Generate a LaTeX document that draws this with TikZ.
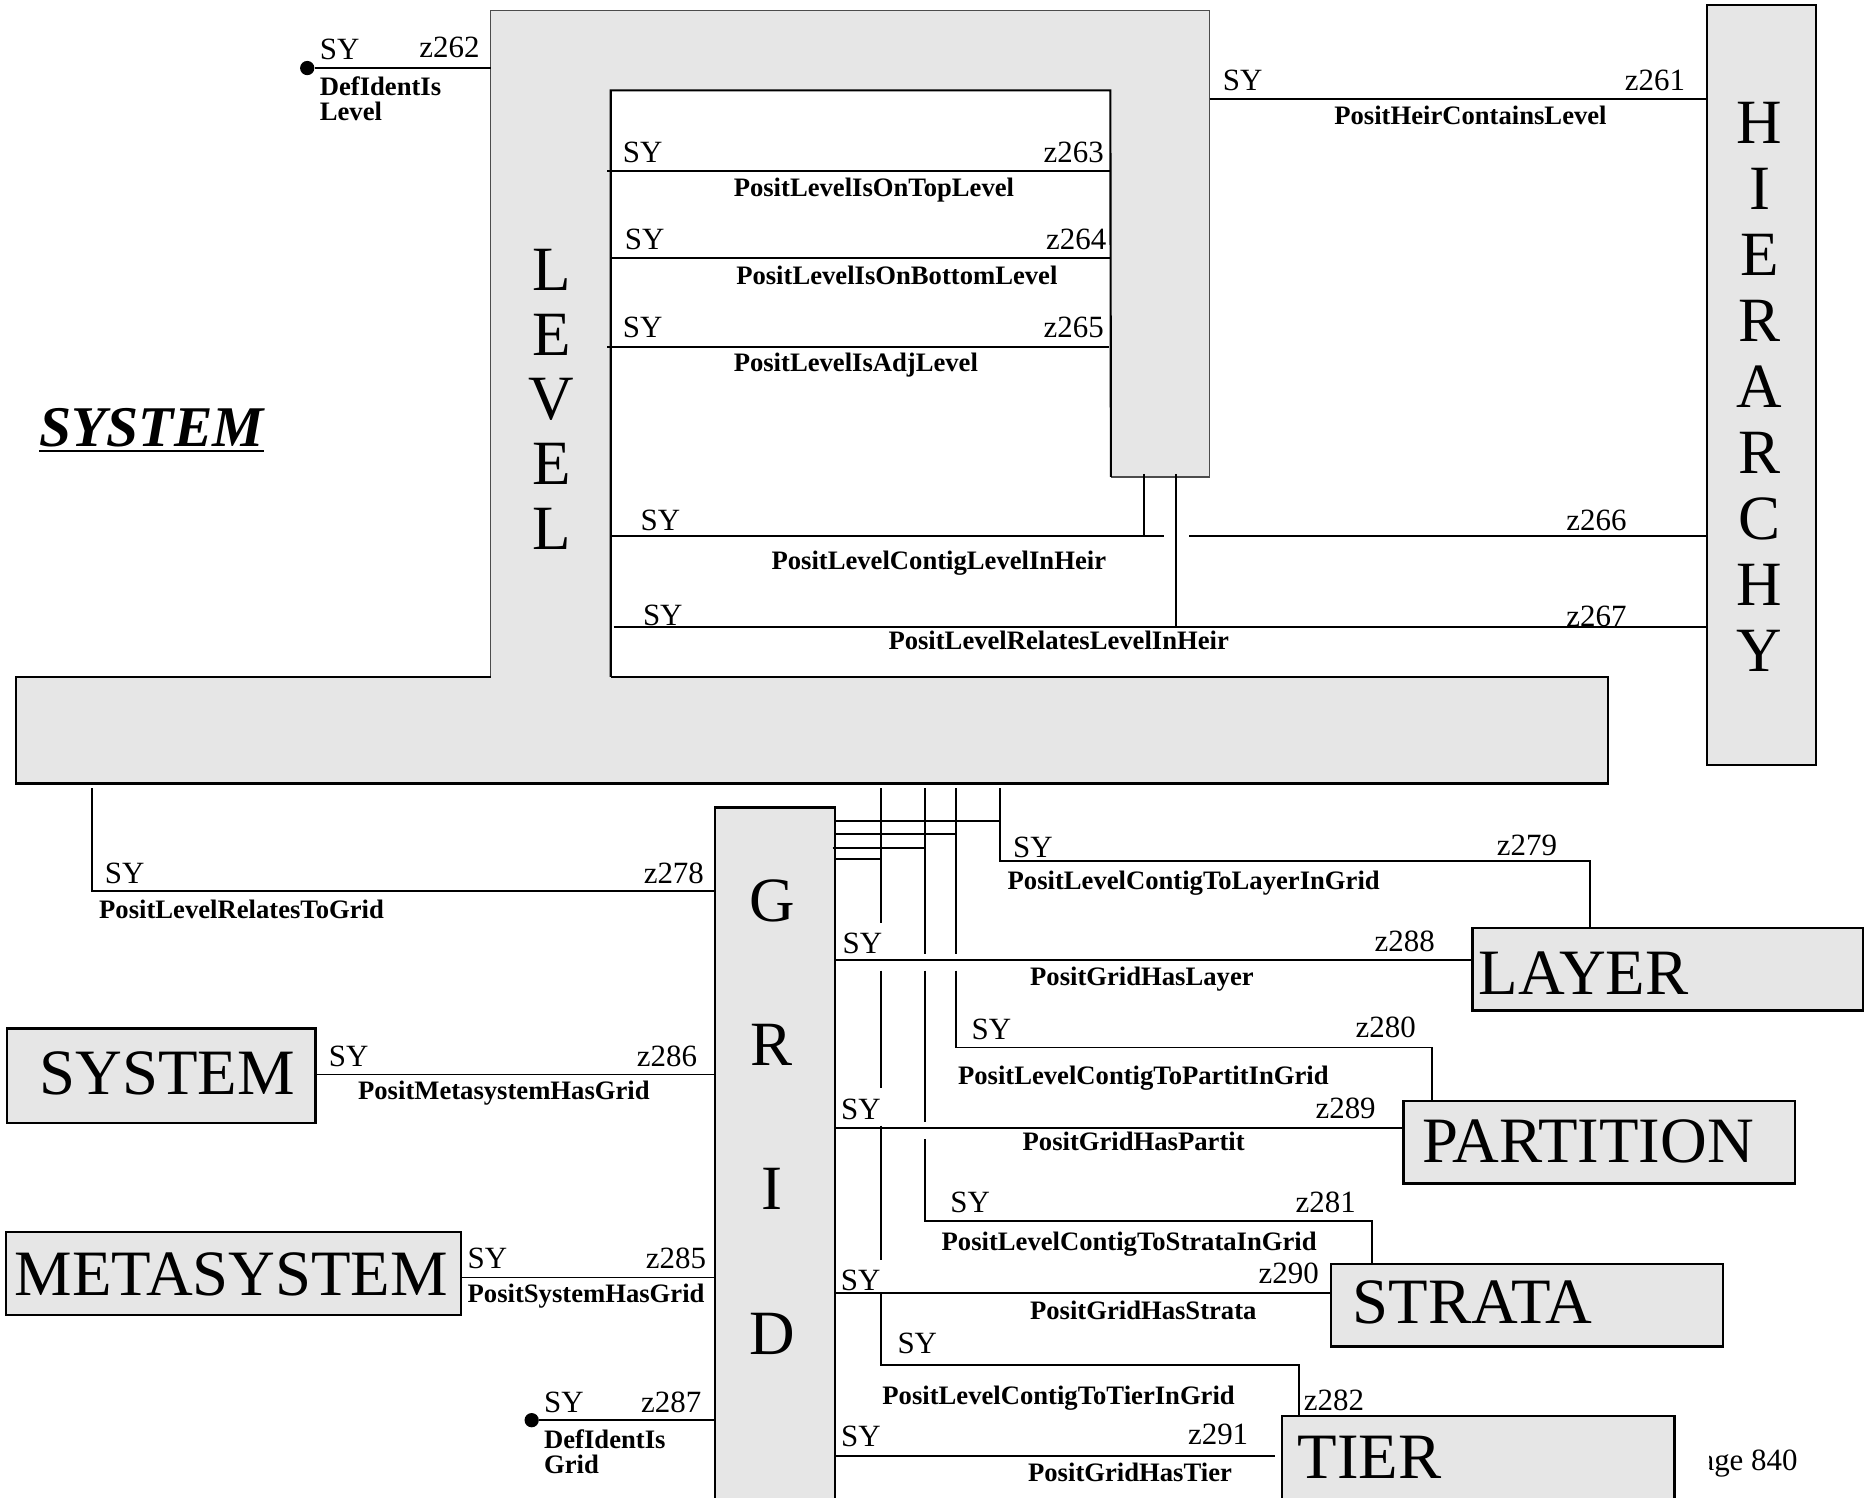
\documentclass[tikz,border=0pt]{standalone}
\usepackage{fontspec}
\setmainfont{Liberation Serif}
\newcommand{\pxunit}{0.5pt}
\definecolor{boxgray}{HTML}{E6E6E6}
\begin{document}
\begin{tikzpicture}[x=0.5pt,y=-0.5pt,
  ebox/.style={draw, line width=1pt, fill=boxgray, inner sep=0pt, outer sep=0pt, anchor=north west},
  conn/.style={line width=0.75pt},
  lab/.style={inner sep=0pt, anchor=base west, font=\fontsize{13}{15}\selectfont},
  labr/.style={inner sep=0pt, anchor=base east, font=\fontsize{13}{15}\selectfont},
  bl/.style={inner sep=0pt, anchor=base west, font=\fontsize{11.2}{13}\selectfont\bfseries},
  bigt/.style={inner sep=0pt, anchor=base west, font=\fontsize{27.2}{30}\selectfont},
  vlet/.style={inner sep=0pt, anchor=base, font=\fontsize{26.5}{30}\selectfont},
  dotn/.style={circle, fill, inner sep=0pt, minimum size=12*\pxunit}
]
\useasboundingbox (0,0) rectangle (1568,1259);
\clip (0,0) rectangle (1568,1259);

% LEVEL frame joined to the long bar
\coordinate (lvOL) at (412.5,569); \coordinate (lvOT) at (412.5,9);
\coordinate (lvOR) at (1017,9);    \coordinate (lvRB) at (1017,401);
\coordinate (lvIB) at (934,401);   \coordinate (lvIR) at (933.5,76);
\coordinate (lvIL) at (513.5,76);  \coordinate (lvILB) at (513.5,569);
\coordinate (barTR) at (1352,569); \coordinate (barBR) at (1352,658.6);
\coordinate (barBL) at (13.5,658.6); \coordinate (barTL) at (13.5,569);
\fill[boxgray] (barTL) -- (lvOL) -- (lvOT) -- (lvOR) -- (lvRB) -- (lvIB) -- (lvIR) -- (lvIL) -- (lvILB) -- (barTR) -- (barBR) -- (barBL) -- cycle;
\draw[line width=0.6pt, black!70] (lvOL) -- (lvOT) -- (lvOR) -- (lvRB) -- (lvIB);
\draw[line width=0.9pt] (lvIB) -- (lvIR) -- (lvIL) -- (lvILB);
\draw[line width=1pt] (lvOL) -- (barTL) -- (barBL) -- (barBR) -- (barTR) -- (lvILB);

% boxes
\node[ebox, minimum width=92*\pxunit, minimum height=639*\pxunit] (hier) at (1435,4) {};
\node[ebox, minimum width=101*\pxunit, minimum height=640*\pxunit] (grid) at (601,679) {};
\node[ebox, minimum width=328.5*\pxunit, minimum height=69.7*\pxunit] (layer) at (1238,780) {};
\node[ebox, minimum width=329*\pxunit, minimum height=69.6*\pxunit] (partit) at (1180,925.4) {};
\node[ebox, minimum width=329.6*\pxunit, minimum height=69.5*\pxunit] (strata) at (1119,1062.7) {};
\node[ebox, minimum width=329.7*\pxunit, minimum height=120*\pxunit] (tier) at (1078,1190.3) {};
\node[ebox, minimum width=259.6*\pxunit, minimum height=79.3*\pxunit] (sysbox) at (5.8,864.6) {};
\node[ebox, minimum width=382.8*\pxunit, minimum height=70*\pxunit] (metabox) at (4.8,1035.6) {};

% vertical letters
\foreach \l [count=\i from 0] in {L,E,V,E,L}
  \node[vlet] (lv\i) at (463.6,{244+54.5*\i}) {\l};
\foreach \l [count=\i from 0] in {H,I,E,R,A,R,C,H,Y}
  \node[vlet] (hl\i) at (1479.5,{120.5+55.5*\i}) {\l};
\foreach \l [count=\i from 0] in {G,R,I,D}
  \node[vlet] (gl\i) at (649,{774.5+121.3*\i}) {\l};

% helper coordinates
\coordinate (s261) at (1017,83);
\coordinate (s263) at (510.5,143.8); \coordinate (e263) at (933,143.8);
\coordinate (s264) at (513.5,217.2); \coordinate (e264) at (934,217.2);
\coordinate (s265) at (510.5,291.5); \coordinate (e265) at (932,291.5);
\coordinate (s266) at (513.5,450.4); \coordinate (g1) at (979,450.4); \coordinate (g2) at (1000,450.4);
\coordinate (p1) at (962,398.5); \coordinate (p2) at (988.7,398.5);
\coordinate (s267) at (515.8,527);
\coordinate (s278) at (77.2,662.8); \coordinate (k278) at (77.2,748.9);
\coordinate (v740) at (740.6,662.8); \coordinate (v778) at (777.7,662.8);
\coordinate (v803) at (803.5,662.8); \coordinate (v840) at (841,662.8);
\coordinate (y690) at (0,690); \coordinate (y701) at (0,701.5);
\coordinate (y712) at (0,712.7); \coordinate (y722) at (0,722);
\coordinate (y775) at (0,775.8); \coordinate (y802) at (0,802.4);
\coordinate (y807) at (0,807.1); \coordinate (y816) at (0,816.1);
\coordinate (y903) at (0,903.3); \coordinate (y915) at (0,915);
\coordinate (y943) at (0,943.6); \coordinate (y946) at (0,946.4);
\coordinate (y948) at (0,948.1); \coordinate (y957) at (0,957.7);
\coordinate (y1059) at (0,1059.4); \coordinate (y1074) at (0,1074);
\coordinate (y1087) at (0,1086.8);
\coordinate (k279) at (1336.8,723.6); \coordinate (k280) at (1203.8,880.6);
\coordinate (k281) at (1153.7,1026.3); \coordinate (k282) at (1092.1,1147.6);
\coordinate (e291) at (1072,1223.9);

% connectors
\node[dotn] (dot1) at (258.3,57.2) {};
\draw[conn] (dot1.east) -- (dot1.east -| lvOL);
\draw[conn] (s261) -- (s261 -| hier.west);
\draw[conn] (s263) -- (e263);
\draw[conn] (s264) -- (e264);
\draw[conn] (s265) -- (e265);
\draw[conn] (s266) -- (g1);
\draw[conn] (g2) -- (g2 -| hier.west);
\draw[conn] (p1) -- (p1 |- s266);
\draw[conn] (p2) -- (p2 |- s267);
\draw[conn] (s267) -- (s267 -| hier.west);
\draw[conn] (s278) -- (k278) -- (k278 -| grid.west);

\draw[conn] (grid.east |- y690) -- (v840 |- y690);
\draw[conn] (grid.east |- y701) -- (v803 |- y701);
\draw[conn] ([xshift=-1pt]grid.east |- y712) -- (v778 |- y712);
\draw[conn] (grid.east |- y722) -- (v740 |- y722);

\draw[conn] (v840) -- (v840 |- k279) -- (k279) -- (k279 |- layer.north);
\draw[conn] (grid.east |- y807) -- (layer.west |- y807);
\draw[conn] (v803) -- (v803 |- y802);
\draw[conn] (v803 |- y816) -- (v803 |- k280) -- (k280) -- (k280 |- partit.north);
\draw[conn] (grid.east |- y948) -- (partit.west |- y948);
\draw[conn] (v778) -- (v778 |- y802);
\draw[conn] (v778 |- y816) -- (v778 |- y943);
\draw[conn] (v778 |- y957) -- (v778 |- k281) -- (k281) -- (k281 |- strata.north);
\draw[conn] (grid.east |- y1087) -- (strata.west |- y1087);
\draw[conn] (v740) -- (v740 |- y775);
\draw[conn] (v740 |- y816) -- (v740 |- y915);
\draw[conn] (v740 |- y946) -- (v740 |- y1059);
\draw[conn] (v740 |- y1087) -- (v740 |- k282) -- (k282) -- (k282 |- tier.north);
\draw[conn] (grid.east |- e291) -- (e291);

\draw[conn] (sysbox.east |- y903) -- (grid.west |- y903);
\draw[conn] (metabox.east |- y1074) -- (grid.west |- y1074);
\node[dotn] (dot2) at (447,1194) {};
\draw[conn] (dot2.east) -- (dot2.east -| grid.west);

% labels
\node[lab] (sy262) at (268.5,50.4) {SY};
\node[labr] (n262) at (403.6,48.2) {z262};
\node[bl] (d262a) at (268.5,80.4) {DefIdentIs};
\node[bl] (d262b) at (268.5,101.5) {Level};
\node[lab] (sy261) at (1027.7,75.7) {SY};
\node[labr] (n261) at (1417.1,75.7) {z261};
\node[bl] (l261) at (1121.4,104.5) {PositHeirContainsLevel};
\node[lab] (sy263) at (523.3,136.8) {SY};
\node[labr] (n263) at (928.4,136.8) {z263};
\node[bl] (l263) at (616.5,164.8) {PositLevelIsOnTopLevel};
\node[lab] (sy264) at (525,209.6) {SY};
\node[labr] (n264) at (930.5,209.6) {z264};
\node[bl] (l264) at (618.6,238.8) {PositLevelIsOnBottomLevel};
\node[lab] (sy265) at (523.3,283.9) {SY};
\node[labr] (n265) at (928.4,283.9) {z265};
\node[bl] (l265) at (616.5,312.5) {PositLevelIsAdjLevel};
\node[lab] (sy266) at (538.3,445.6) {SY};
\node[lab] (n266) at (1316.5,445.6) {z266};
\node[bl] (l266) at (648.3,479.2) {PositLevelContigLevelInHeir};
\node[lab] (sy267) at (540.2,525.5) {SY};
\node[lab] (n267) at (1316.5,527) {z267};
\node[bl] (l267) at (746.6,545.9) {PositLevelRelatesLevelInHeir};
\node[lab] (sy278) at (87.8,743.2) {SY};
\node[labr] (n278) at (592.2,743.2) {z278};
\node[bl] (l278) at (83,772.1) {PositLevelRelatesToGrid};
\node[lab] (sy286) at (276.1,896.3) {SY};
\node[labr] (n286) at (586.4,896.3) {z286};
\node[bl] (l286) at (300.7,924.8) {PositMetasystemHasGrid};
\node[lab] (sy285) at (392.8,1066.4) {SY};
\node[labr] (n285) at (594,1066.4) {z285};
\node[bl] (l285) at (392.8,1095.2) {PositSystemHasGrid};
\node[lab] (sy287) at (457.1,1187.4) {SY};
\node[labr] (n287) at (590,1187.4) {z287};
\node[bl] (d287a) at (457.1,1217.7) {DefIdentIs};
\node[bl] (d287b) at (457.1,1238.7) {Grid};
\node[lab] (sy279) at (851.4,721.1) {SY};
\node[labr] (n279) at (1309.5,719) {z279};
\node[bl] (l279) at (846.8,747.7) {PositLevelContigToLayerInGrid};
\node[lab] (sy288) at (708,801.5) {SY};
\node[labr] (n288) at (1206.7,800) {z288};
\node[bl] (l288) at (865.7,828.7) {PositGridHasLayer};
\node[lab] (sy280) at (816.5,873.8) {SY};
\node[labr] (n280) at (1190.7,872) {z280};
\node[bl] (l280) at (805.1,911.4) {PositLevelContigToPartitInGrid};
\node[lab] (sy289) at (706.8,941.1) {SY};
\node[labr] (n289) at (1157,940) {z289};
\node[bl] (l289) at (859.4,967.5) {PositGridHasPartit};
\node[lab] (sy281) at (798.7,1019.6) {SY};
\node[labr] (n281) at (1140.3,1019.6) {z281};
\node[bl] (l281) at (791.3,1051) {PositLevelContigToStrataInGrid};
\node[lab] (sy290) at (706.6,1084.6) {SY};
\node[labr] (n290) at (1109.2,1079.5) {z290};
\node[bl] (l290) at (865.6,1109.3) {PositGridHasStrata};
\node[lab] (sy282) at (754.2,1137.8) {SY};
\node[lab] (n282) at (1095.8,1186) {z282};
\node[bl] (l282) at (741.5,1180.4) {PositLevelContigToTierInGrid};
\node[lab] (sy291) at (706.8,1216.3) {SY};
\node[labr] (n291) at (1049.8,1214.7) {z291};
\node[bl] (l291) at (864,1245.7) {PositGridHasTier};

% box texts
\node[bigt] (tlayer) at (1242.9,836.2) {LAYER};
\node[bigt] (tpart) at (1195.3,977.3) {PARTITION};
\node[bigt] (tstrata) at (1137,1112.6) {STRATA};
\node[bigt] (ttier) at (1090.6,1242.9) {TIER};
\node[bigt] (tsys) at (32.8,920.6) {SYSTEM};
\node[bigt] (tmeta) at (11.9,1088.8) {METASYSTEM};

% title
\node[inner sep=0pt, anchor=base west, font=\fontsize{24.2}{28}\selectfont\bfseries\itshape] (title) at (33,375.6) {SYSTEM};
\draw[line width=0.85pt] ([yshift=-1.7pt]title.base west) -- ([yshift=-1.7pt]title.base east);

% page number, partly hidden
\begin{scope}
  \clip (1437,1190) rectangle (1568,1259);
  \node[labr] (pg) at (1511.7,1236.7) {Page 840};
\end{scope}
\end{tikzpicture}
\end{document}
